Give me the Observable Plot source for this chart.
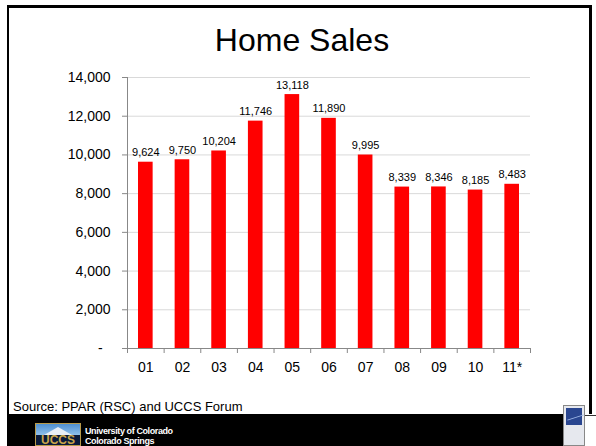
<!DOCTYPE html>
<html>
<head>
<meta charset="utf-8">
<script src="https://cdn.jsdelivr.net/npm/d3@7"></script>
<script src="https://cdn.jsdelivr.net/npm/@observablehq/plot@0.6"></script>
<style>
  html, body { margin: 0; padding: 0; background: #fff; }
  #wrap { position: relative; width: 596px; height: 446px; overflow: hidden; background: #fff;
          font-family: "Liberation Sans", Arial, sans-serif; }
  #chart { position: absolute; left: 0; top: 0; }
  .abs { position: absolute; }
</style>
</head>
<body>
<div id="wrap">
  <div id="chart"></div>
  <div class="abs" style="left:7px;top:5px;width:580px;height:409px;border-top:3px solid #000;border-left:2px solid #000;border-right:3px solid #000;box-sizing:border-box;width:585px;"></div>
  <div class="abs" id="title" style="left:0;width:604px;top:24px;text-align:center;font-size:32px;line-height:32px;color:#000;">Home Sales</div>
  <div class="abs" id="source" style="left:13px;top:400px;font-size:13px;line-height:13px;color:#000;">Source: PPAR (RSC) and UCCS Forum</div>
  <div class="abs" style="left:7px;top:414px;width:557px;height:32px;background:#000;"></div>
  <!-- UCCS logo -->
  <div class="abs" style="left:35px;top:423px;width:46px;height:23px;border:1px solid #b89a4a;box-sizing:border-box;background:#0a1a3a;overflow:hidden;">
    <div style="height:11px;background:linear-gradient(#4f8fd0,#8fc0ea);position:relative;">
      <div style="position:absolute;left:8px;top:3px;width:0;height:0;border-left:14px solid transparent;border-right:14px solid transparent;border-bottom:8px solid #e8eef5;"></div>
    </div>
    <div style="font-weight:bold;font-size:12px;line-height:11px;color:#c9a54a;letter-spacing:0px;text-align:center;">UCCS</div>
  </div>
  <div class="abs" style="left:85px;top:426px;font-weight:bold;font-size:9px;line-height:10px;color:#fff;letter-spacing:-0.4px;">University of Colorado<br>Colorado Springs</div>
  <!-- small corner picture -->
  <div class="abs" style="left:563px;top:405px;width:22px;height:41px;border:1px solid #888;box-sizing:border-box;background:#e6e8ee;">
    <div style="margin:2px;height:17px;background:#2a4690;position:relative;">
      <div style="position:absolute;left:1px;top:9px;width:17px;height:1px;background:#9fb8e8;transform:rotate(-18deg);"></div>
    </div>
  </div>
  <div class="abs" style="left:585px;top:415px;width:11px;height:1px;background:#333;"></div>
</div>
<script>
const years = ["01","02","03","04","05","06","07","08","09","10","11*"];
const sales = [9624, 9750, 10204, 11746, 13118, 11890, 9995, 8339, 8346, 8185, 8483];
const yTicks = [0, 2000, 4000, 6000, 8000, 10000, 12000, 14000];
const xBoundaries = [0,1,2,3,4,5,6,7,8,9,10,11];

const data = years.map((year, i) => ({i, year, sales: sales[i]}));
const fmt = d3.format(",");

const chart = Plot.plot({
  width: 596,
  height: 446,
  marginLeft: 127,
  marginRight: 66,
  marginTop: 77,
  marginBottom: 98,
  style: {fontFamily: '"Liberation Sans", Arial, sans-serif', background: "transparent", color: "#000"},
  x: {type: "linear", domain: [0, 11]},
  y: {domain: [0, 14000]},
  marks: [
    Plot.gridY(yTicks, {stroke: "#d9d9d9", strokeOpacity: 1}),
    Plot.rectY(data, {x1: "i", x2: d => d.i + 1, y: "sales", fill: "#ff0000", insetLeft: 11, insetRight: 11}),
    Plot.ruleX([0], {stroke: "#888"}),
    Plot.ruleY([0], {stroke: "#888"}),
    Plot.axisY({ticks: yTicks, tickSize: 5, tickPadding: 12, stroke: "#888", fill: "#000", fontSize: 14,
      tickFormat: d => d === 0 ? "-\u00a0\u00a0" : fmt(d), label: null}),
    Plot.axisX({ticks: xBoundaries, tickSize: 5, stroke: "#888", tickFormat: () => "", label: null}),
    Plot.text(data, {x: d => d.i + 0.5, y: 0, text: "year", dy: 19, fontSize: 14, lineAnchor: "middle", fill: "#000"}),
    Plot.text(data, {x: d => d.i + 0.5, y: "sales", text: d => fmt(d.sales), dy: -6, fontSize: 11, lineAnchor: "bottom", fill: "#000"})
  ]
});
document.getElementById("chart").appendChild(chart);
</script>
</body>
</html>
